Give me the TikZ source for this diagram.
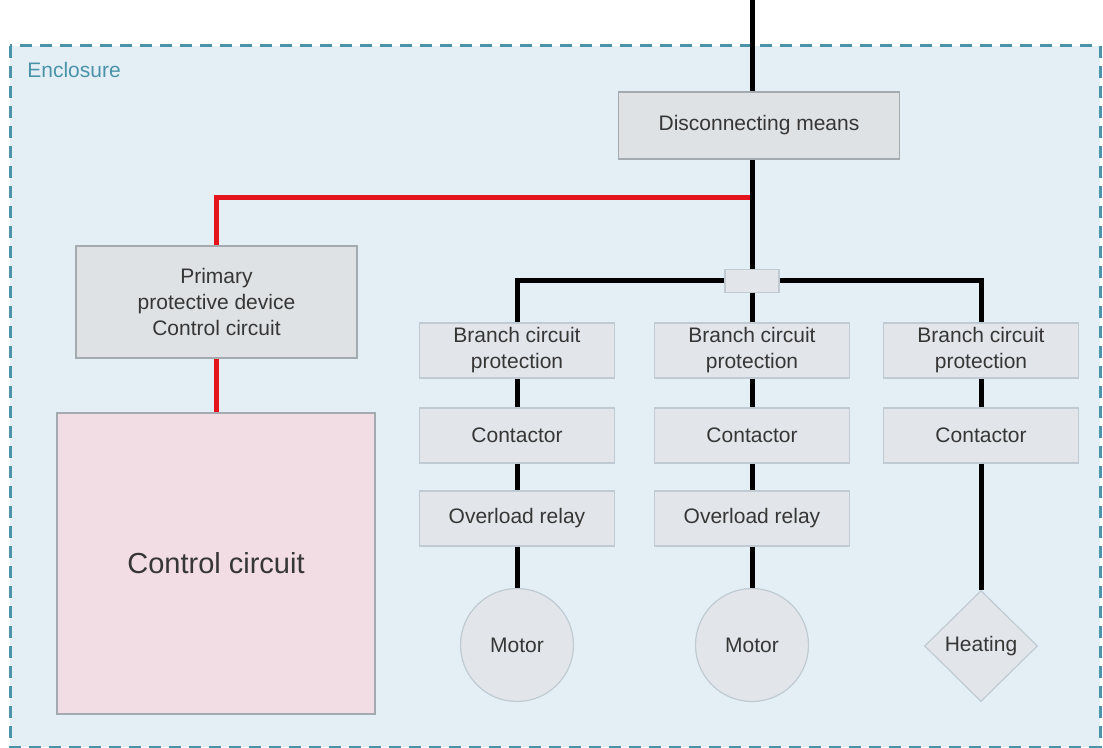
\documentclass[tikz,border=0pt]{standalone}
\usepackage{fontspec}
\setmainfont{Liberation Sans}
\usepackage{xcolor}
\usetikzlibrary{shapes.geometric}

\definecolor{encfill}{HTML}{E4EFF5}
\definecolor{encline}{HTML}{4A93A8}
\definecolor{boxfill}{HTML}{DFE2E5}
\definecolor{boxline}{HTML}{A3AAB0}
\definecolor{lightbox}{HTML}{E2E6EA}
\definecolor{lightline}{HTML}{BFCAD2}
\definecolor{ccfill}{HTML}{F3DDE4}
\definecolor{txt}{HTML}{363636}
\definecolor{feed}{HTML}{E5141C}

\tikzset{
    mainbox/.style={draw=boxline, fill=boxfill, line width=0.6pt, text=txt,
        font=\fontsize{10.5}{13}\selectfont, align=center, inner sep=0pt},
    branchbox/.style={draw=lightline, fill=lightbox, line width=0.6pt, text=txt,
        font=\fontsize{10.5}{13}\selectfont, align=center, inner sep=0pt,
        minimum width=97.5pt, minimum height=27.5pt},
    load/.style={draw=lightline, fill=lightbox, line width=0.6pt, text=txt,
        font=\fontsize{10.5}{13}\selectfont, inner sep=0pt},
    wire/.style={line width=2.5pt, black},
    redwire/.style={line width=2.5pt, feed}
}

\begin{document}
\begin{tikzpicture}[x=0.5pt, y=-0.5pt]
        \useasboundingbox (0,0) rectangle (1103,748);

        \draw[encline, fill=encfill, line width=1.5pt, dash pattern=on 6pt off 4pt]
            (10,46) rectangle (1100,747);
        \node[anchor=north west, text=encline, font=\fontsize{10.5}{13}\selectfont, inner sep=0pt]
            (enc) at (27,62) {Enclosure};

        \coordinate (supply) at (752,0);
        \coordinate (tap) at (752,198);

        \node[mainbox, minimum width=140.5pt, minimum height=33.5pt] (dm) at (759,125.5) {Disconnecting means};
        \node[mainbox, minimum width=140.5pt, minimum height=56pt] (ppd) at (216.5,302)
            {Primary\\protective device\\Control circuit};
        \node[mainbox, fill=ccfill, minimum width=159pt, minimum height=150.5pt,
            font=\fontsize{14.5}{17}\selectfont] (cc) at (216,563.5) {Control circuit};
        \node[branchbox, minimum width=27pt, minimum height=11.5pt] (jn) at (752,281) {};

        \node[branchbox] (b1) at (517,350.5) {Branch circuit\\protection};
        \node[branchbox] (b2) at (752,350.5) {Branch circuit\\protection};
        \node[branchbox] (b3) at (981,350.5) {Branch circuit\\protection};
        \node[branchbox] (c1) at (517,435.5) {Contactor};
        \node[branchbox] (c2) at (752,435.5) {Contactor};
        \node[branchbox] (c3) at (981,435.5) {Contactor};
        \node[branchbox] (o1) at (517,518.5) {Overload relay};
        \node[branchbox] (o2) at (752,518.5) {Overload relay};
        \node[load, circle, minimum size=56.5pt] (m1) at (517,645) {Motor};
        \node[load, circle, minimum size=56.5pt] (m2) at (752,645) {Motor};
        \node[load, diamond, minimum width=56.5pt, minimum height=55.5pt] (h3) at (981,646) {Heating};

        \draw[redwire] (tap) -| (ppd.north);
        \draw[redwire] (ppd.south) -- (ppd.south |- cc.north);

        \draw[wire] (supply) -- (supply |- dm.north);
        \draw[wire] (supply |- dm.south) -- (jn.north);
        \draw[wire] (jn.west) -| (b1.north);
        \draw[wire] (jn.east) -| (b3.north);
        \draw[wire] (jn.south) -- (b2.north);
        \draw[wire] (b1) -- (c1) (c1) -- (o1) (o1) -- (m1);
        \draw[wire] (b2) -- (c2) (c2) -- (o2) (o2) -- (m2);
        \draw[wire] (b3) -- (c3) (c3) -- (h3);
    \end{tikzpicture}
\end{document}
